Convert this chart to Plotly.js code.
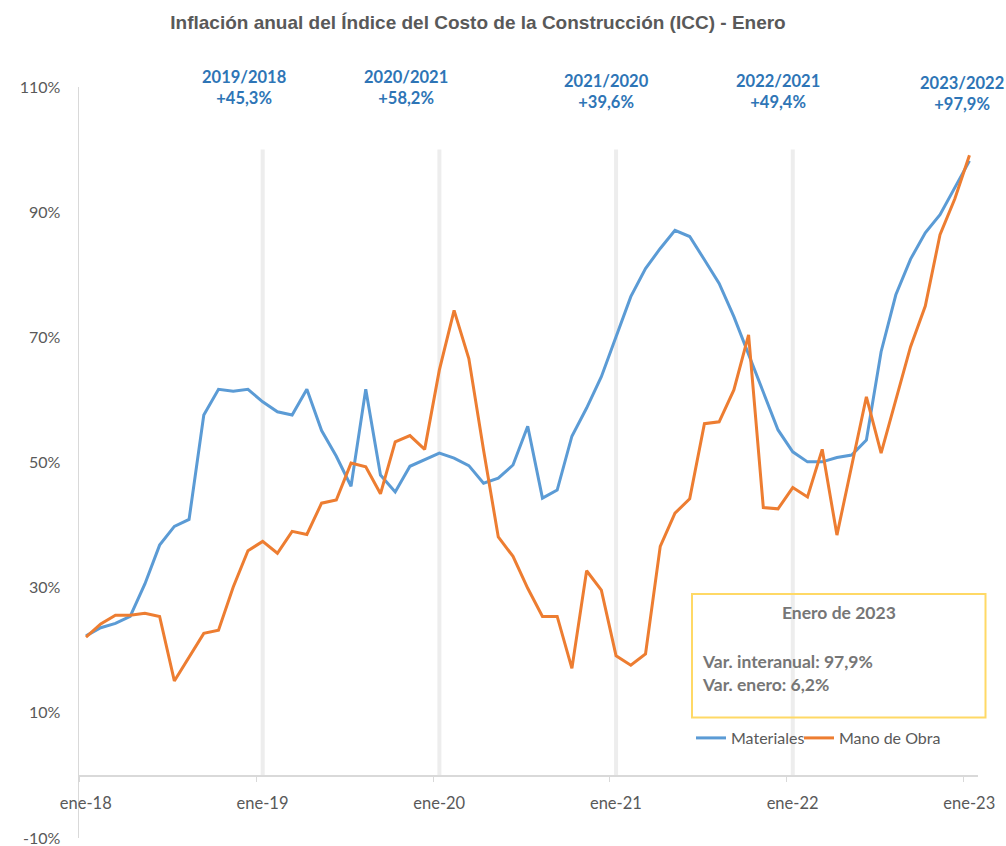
<!DOCTYPE html>
<html>
<head>
<meta charset="utf-8">
<script src="https://cdn.plot.ly/plotly-3.0.1.min.js"></script>
<style>html,body{margin:0;padding:0;background:#fff;}#chart{width:1006px;height:846px;}</style>
</head>
<body>
<div id="chart"></div>
<script>
// Month index: 0 = ene-18 ... 60 = ene-23
const monthIndex = [0,1,2,3,4,5,6,7,8,9,10,11,12,13,14,15,16,17,18,19,20,21,22,23,24,25,26,27,28,29,30,31,32,33,34,35,36,37,38,39,40,41,42,43,44,45,46,47,48,49,50,51,52,53,54,55,56,57,58,59,60];

const materiales = [22.3,23.6,24.3,25.4,30.6,36.8,39.8,40.9,57.6,61.7,61.4,61.7,59.7,58.1,57.6,61.7,55.1,51.0,46.2,61.7,48.0,45.3,49.4,50.4,51.5,50.7,49.5,46.7,47.5,49.6,55.8,44.3,45.6,54.2,58.7,63.7,70.1,76.5,81.0,84.2,87.1,86.1,82.4,78.6,73.3,67.2,61.1,55.2,51.7,50.1,50.1,50.8,51.2,53.6,67.7,76.8,82.5,86.7,89.6,93.8,98.2];

const manoDeObra = [22.1,24.2,25.6,25.6,25.9,25.4,15.1,19.0,22.7,23.2,30.1,35.9,37.4,35.5,39.0,38.5,43.5,44.0,49.9,49.3,45.0,53.3,54.3,52.1,64.8,74.3,66.6,52.0,38.1,35.0,29.9,25.4,25.4,17.1,32.7,29.6,19.1,17.6,19.4,36.6,41.9,44.2,56.2,56.5,61.6,70.4,42.8,42.6,46.0,44.5,52.1,38.4,49.4,60.5,51.5,59.8,68.5,75.0,86.4,92.1,99.1];

const seriesNames = ['Materiales', 'Mano de Obra'];
const xTickLabels = ['ene-18','ene-19','ene-20','ene-21','ene-22','ene-23'];
const xTickMonths = [0,12,24,36,48,60];
const yTickValues = [-10,10,30,50,70,90,110];
const yTickLabels = ['-10%','10%','30%','50%','70%','90%','110%'];
const periodLabels = ['2019/2018','2020/2021','2021/2020','2022/2021','2023/2022'];
const periodPct = ['+45,3%','+58,2%','+39,6%','+49,4%','+97,9%'];
const januaryMarks = [12,24,36,48];
const boxTitle = 'Enero de 2023';
const boxLines = ['Var. interanual: 97,9%','Var. enero: 6,2%'];
const chartTitle = 'Inflación anual del Índice del Costo de la Construcción (ICC) - Enero';

// plot area geometry (pixels)
const L = 79, R = 978, T = 87, B = 838;
const px = x => (x - L) / (R - L);
const py = y => (B - y) / (B - T);

const FONT = 'Lato, "Open Sans", sans-serif';
const GREY = '#595959';

const traces = [
  {x: monthIndex, y: materiales, name: seriesNames[0], type: 'scatter', mode: 'lines',
   line: {color: '#5b9bd5', width: 3}, legend: 'legend'},
  {x: monthIndex, y: manoDeObra, name: seriesNames[1], type: 'scatter', mode: 'lines',
   line: {color: '#ed7d31', width: 3}, legend: 'legend2'}
];

const periodX = [244, 406, 606, 778, 962];
const periodY = [88, 88, 91, 91, 94];
const annotations = periodLabels.map((t, i) => ({
  xref: 'paper', yref: 'paper', x: px(periodX[i]), y: py(periodY[i]),
  xanchor: 'center', yanchor: 'middle', showarrow: false, align: 'center',
  text: '<b>' + t + '<br>' + periodPct[i] + '</b>',
  font: {family: FONT, size: 16.5, color: '#2e75b6'}
}));
annotations.push({
  xref: 'paper', yref: 'paper', x: px(839), y: py(612), xanchor: 'center', yanchor: 'middle',
  showarrow: false, text: '<b>' + boxTitle + '</b>', font: {family: FONT, size: 17.5, color: '#767676'}
});
boxLines.forEach((t, i) => annotations.push({
  xref: 'paper', yref: 'paper', x: px(700), y: py(661 + 23 * i), xanchor: 'left', yanchor: 'middle',
  showarrow: false, text: '<b>' + t + '</b>', font: {family: FONT, size: 17.5, color: '#767676'}
}));

const shapes = januaryMarks.map(m => ({
  type: 'line', xref: 'x', yref: 'y', x0: m, x1: m, y0: 0, y1: 100, layer: 'below',
  line: {color: '#ededed', width: 4}
}));
shapes.push({
  type: 'rect', xref: 'paper', yref: 'paper', x0: px(692), x1: px(985.5), y0: py(717.5), y1: py(594),
  line: {color: '#ffd966', width: 2}, fillcolor: 'rgba(0,0,0,0)'
});

const legendBase = {
  orientation: 'h', xref: 'paper', yref: 'paper', y: py(738),
  xanchor: 'left', yanchor: 'middle', bgcolor: 'rgba(0,0,0,0)',
  font: {family: FONT, size: 16, color: GREY}, itemgap: 0, tracegroupgap: 0
};

const layout = {
  width: 1006, height: 846,
  margin: {l: L, r: 1006 - R, t: T, b: 846 - B, pad: 0},
  paper_bgcolor: '#ffffff', plot_bgcolor: '#ffffff',
  title: {
    text: chartTitle, xref: 'container', yref: 'container',
    x: 478 / 1006, y: 1 - 22 / 846, xanchor: 'center', yanchor: 'middle',
    font: {family: '"Liberation Sans", Arial, sans-serif', size: 19, color: '#595959', weight: 'bold'}
  },
  xaxis: {
    range: [-0.475, 60.58], anchor: 'free', position: 10 / 120,
    tickmode: 'array', tickvals: xTickMonths.map(m => m - 0.42), ticktext: xTickLabels,
    ticklabelshift: 6, ticklabelstandoff: 7,
    ticks: 'outside', ticklen: 5, tickcolor: '#d9d9d9', tickwidth: 1,
    showline: true, linecolor: '#d9d9d9', linewidth: 1.5,
    showgrid: false, zeroline: false, fixedrange: true,
    tickfont: {family: FONT, size: 16.5, color: GREY}
  },
  yaxis: {
    range: [-10, 110], tickmode: 'array', tickvals: yTickValues, ticktext: yTickLabels,
    ticks: '', ticklabelstandoff: 14, ticklabeloverflow: 'allow',
    showline: true, linecolor: '#d9d9d9', linewidth: 1.5,
    showgrid: false, zeroline: false, fixedrange: true,
    tickfont: {family: FONT, size: 16, color: GREY}
  },
  showlegend: true,
  legend: Object.assign({}, legendBase, {x: px(691)}),
  legend2: Object.assign({}, legendBase, {x: px(799)}),
  annotations: annotations,
  shapes: shapes
};

Plotly.newPlot('chart', traces, layout, {displayModeBar: false, staticPlot: true});
</script>
</body>
</html>
